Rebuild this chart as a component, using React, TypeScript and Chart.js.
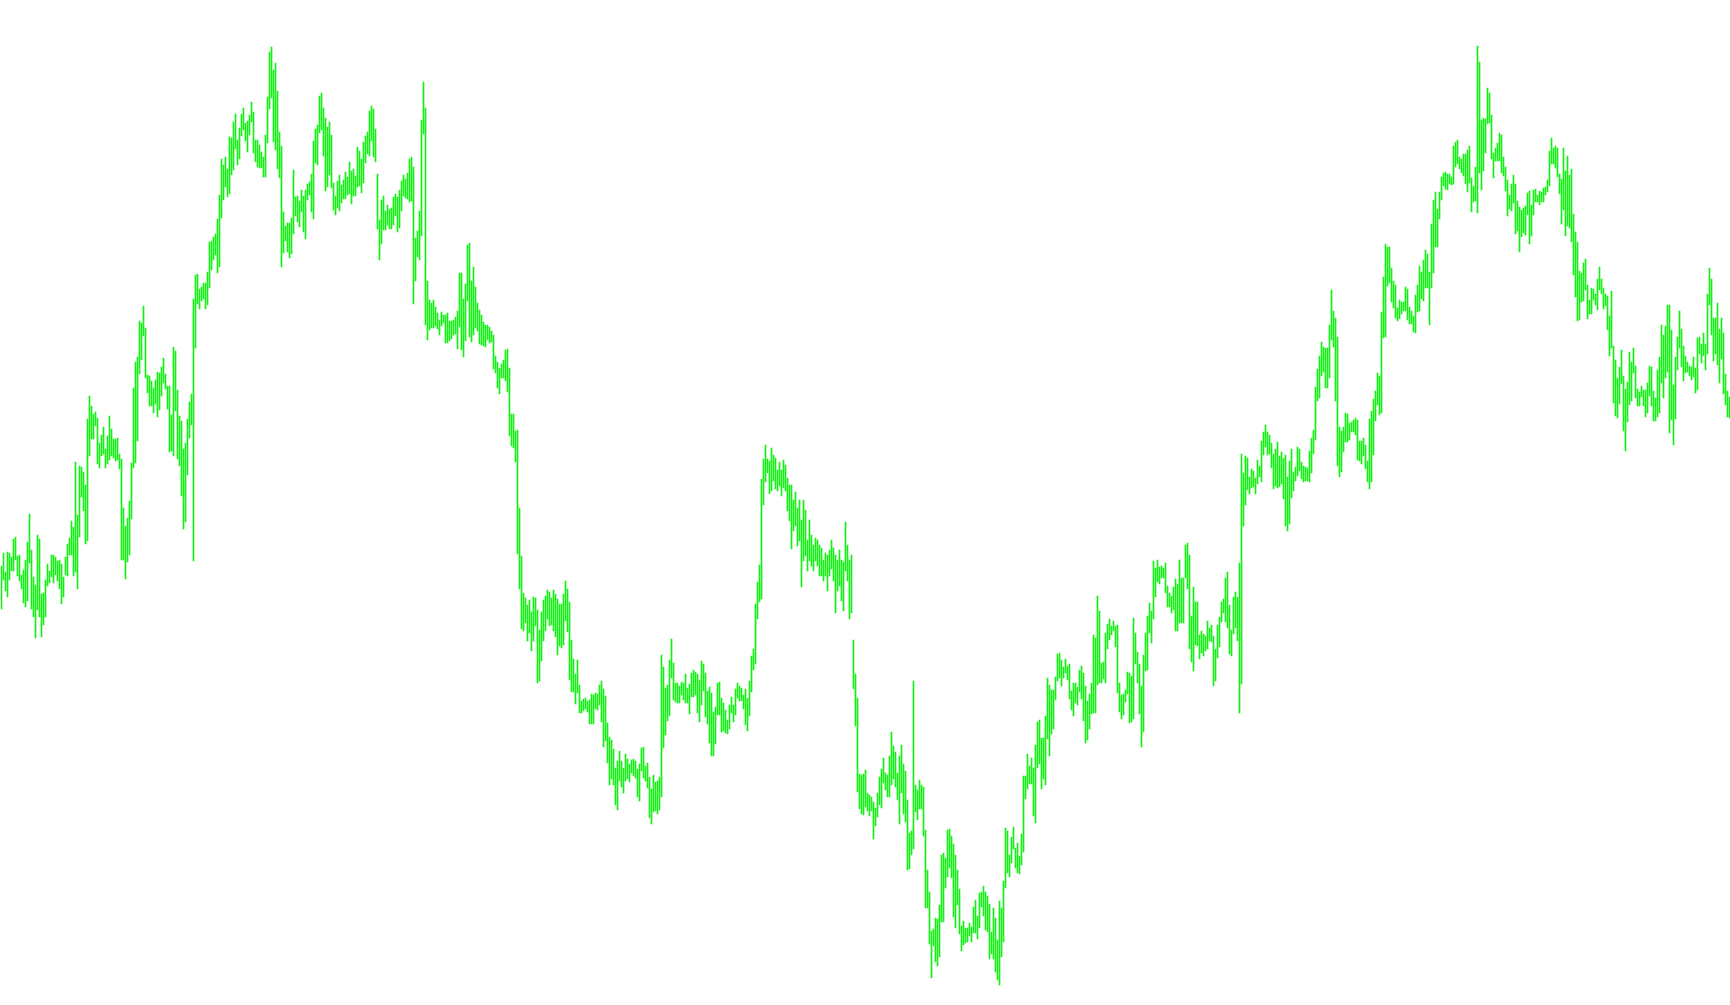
import { useEffect, useRef } from "react";
import { Chart, registerables } from "chart.js";

Chart.register(...registerables);

// Bar chart (high-low bars). The price axis is unlabeled; values are given as
// levels measured downward from the top of the panel (axis drawn reversed).
const upper: number[] = [
  566,553,572,552,553,557,539,537,556,555,
  575,570,560,542,514,550,577,585,535,539,
  594,593,580,564,571,555,555,557,561,560,
  564,577,557,544,538,521,527,462,515,466,
  467,472,485,419,396,406,414,412,418,443,
  435,427,449,436,416,429,439,439,438,454,
  459,508,526,518,501,463,388,362,357,321,
  323,306,328,375,376,381,388,380,372,373,
  367,358,374,386,386,415,347,351,390,416,
  421,449,443,419,402,394,299,275,274,289,
  287,283,283,272,242,241,237,234,219,195,
  159,165,157,169,137,138,122,114,140,128,
  114,108,123,121,115,102,112,140,140,145,
  152,157,135,97,52,47,70,63,91,132,
  146,212,226,223,223,218,170,197,196,201,
  190,196,190,184,182,174,141,129,125,96,
  93,108,118,127,122,135,183,196,181,175,
  185,180,172,177,162,171,169,176,147,151,
  159,142,136,132,111,106,109,129,174,220,
  200,196,211,205,209,208,197,194,197,190,
  181,175,179,173,159,157,167,238,231,211,
  120,82,108,281,300,303,300,307,313,320,
  312,315,315,313,321,321,320,317,311,273,
  273,299,284,245,243,281,267,287,303,310,
  315,322,325,325,327,331,335,356,362,368,
  364,360,350,349,368,414,414,431,430,508,
  556,593,598,605,600,612,597,598,610,630,
  612,600,596,590,592,598,590,594,599,604,
  604,594,581,589,602,640,659,674,660,685,
  701,699,698,701,700,694,695,693,694,685,
  681,689,696,723,737,740,749,768,761,751,
  761,768,754,759,764,760,759,761,769,764,
  748,747,766,763,777,789,775,782,781,777,
  655,667,688,685,660,639,663,683,683,686,
  682,683,674,688,684,673,670,672,674,680,
  661,664,673,691,687,693,712,707,683,682,
  698,703,710,720,705,697,705,689,683,686,
  688,695,689,698,681,656,649,604,582,565,
  479,459,445,459,461,448,455,458,470,462,
  470,460,465,478,485,485,500,492,508,500,
  520,500,510,540,520,535,545,538,540,545,
  548,560,553,555,550,540,548,555,560,550,
  560,562,522,545,560,555,640,674,698,774,
  775,774,770,793,795,797,802,808,793,777,
  769,758,773,775,756,732,746,752,773,756,
  745,764,771,800,833,831,681,785,790,780,
  785,787,830,870,892,931,929,918,919,905,
  855,853,858,830,829,836,844,855,870,889,
  926,921,928,928,923,927,907,900,916,893,
  892,886,892,896,904,932,908,918,940,901,
  908,881,828,831,855,837,827,848,843,856,
  834,776,776,754,766,758,768,745,722,720,
  738,738,716,678,685,690,690,677,654,653,
  660,667,659,666,664,691,683,683,687,670,
  666,673,686,701,694,683,635,638,596,611,
  663,662,633,624,619,626,621,626,625,683,
  695,694,690,672,673,676,618,633,652,664,
  686,655,633,616,603,611,561,568,560,567,
  566,568,563,586,593,596,587,579,584,560,
  578,578,545,543,555,616,587,602,602,635,
  631,634,636,621,628,625,636,649,625,617,
  602,599,578,572,605,630,597,592,597,563,
  454,473,456,458,477,469,471,478,460,466,
  441,432,425,432,435,443,454,449,442,456,
  452,458,455,477,461,449,472,467,447,449,
  462,466,467,468,451,438,430,387,369,356,
  342,347,348,348,325,290,311,318,337,427,
  431,427,413,414,423,422,420,418,420,441,
  441,438,445,461,419,411,399,391,373,376,
  312,277,244,247,247,268,281,285,308,300,
  302,302,287,289,307,311,316,295,285,266,
  272,260,250,254,272,224,200,192,209,192,
  177,173,172,174,174,177,146,142,140,157,
  159,154,154,150,146,178,186,167,46,62,
  120,118,119,88,93,115,153,148,143,133,
  135,157,167,180,195,184,175,184,201,207,
  210,208,206,193,191,205,190,189,195,191,
  192,188,187,180,151,138,148,146,148,174,
  179,148,171,156,175,169,214,232,242,271,
  273,263,259,285,300,288,289,294,279,267,
  279,288,294,296,316,291,346,360,378,367,
  350,376,389,382,352,362,348,366,389,392,
  386,390,390,383,366,367,391,398,370,357,
  325,335,326,305,305,330,385,357,337,311,
  329,346,356,362,366,367,357,368,338,337,
  344,333,344,294,268,279,318,318,303,329,
  318,333,374,391,397,
];

const lower: number[] = [
  608,579,590,596,579,570,570,559,575,580,
  588,602,606,600,562,608,616,637,609,616,
  636,624,616,585,582,576,582,574,580,588,
  603,596,574,575,554,554,575,571,588,536,
  496,510,543,540,455,438,438,425,463,467,
  455,453,467,463,459,455,457,460,459,468,
  559,559,578,561,554,518,467,462,440,373,
  359,335,377,392,405,405,412,403,416,409,
  395,382,388,408,451,450,455,410,458,465,
  495,528,521,474,437,424,560,347,303,308,
  300,298,308,304,287,269,259,254,272,266,
  217,199,186,196,193,174,169,148,164,158,
  135,129,140,151,134,121,152,161,166,167,
  167,176,176,142,108,97,141,149,168,177,
  266,252,240,251,257,253,233,215,221,226,
  211,231,238,199,194,211,218,162,164,132,
  129,155,190,186,174,187,209,214,207,210,
  202,198,198,194,193,203,195,195,186,185,
  192,182,162,153,155,140,156,161,228,259,
  243,229,229,224,228,228,224,215,231,227,
  210,195,197,198,201,200,303,280,256,259,
  235,133,324,339,329,327,327,325,328,334,
  325,322,342,342,340,338,334,333,348,326,
  349,356,340,300,336,341,334,327,330,343,
  344,345,346,339,342,341,368,372,387,393,
  377,377,380,391,435,445,447,461,553,588,
  628,630,622,640,632,650,640,625,682,680,
  660,640,630,618,625,624,630,636,654,645,
  647,644,620,631,679,691,691,703,692,712,
  712,710,708,711,723,723,723,708,709,704,
  721,746,740,762,784,778,784,804,809,780,
  786,792,780,778,781,772,775,777,796,800,
  770,777,780,787,817,823,811,810,813,809,
  796,747,734,720,715,677,699,701,702,702,
  694,699,702,702,713,696,696,694,712,721,
  704,690,716,723,742,755,755,743,714,714,
  731,730,732,733,728,712,721,714,697,700,
  700,708,724,730,715,691,669,663,618,601,
  598,504,481,472,493,490,480,488,490,485,
  495,487,490,510,520,548,530,525,545,540,
  586,560,555,570,560,565,570,560,565,575,
  575,580,575,590,575,568,580,612,590,585,
  600,610,570,580,618,612,688,725,791,808,
  813,814,806,810,815,810,838,825,816,804,
  807,782,789,796,796,784,778,786,799,823,
  792,813,821,869,868,854,848,811,819,808,
  808,835,907,907,943,977,945,961,965,956,
  921,921,887,876,867,877,916,927,904,933,
  950,944,942,941,935,941,932,932,938,927,
  906,915,929,931,958,953,958,971,979,984,
  956,941,887,872,876,862,848,867,872,873,
  864,851,798,788,783,783,815,822,767,763,
  788,778,784,738,755,733,728,699,680,677,
  685,677,672,679,698,709,715,702,704,691,
  698,720,742,739,728,713,712,712,684,682,
  682,678,682,648,639,634,630,646,692,711,
  718,714,701,693,722,721,718,663,682,713,
  746,731,670,669,632,642,618,596,581,583,
  577,577,592,606,606,612,609,630,630,622,
  622,622,577,588,648,661,670,644,645,658,
  652,655,650,648,640,641,685,680,657,646,
  621,612,621,627,653,655,633,627,640,712,
  683,525,504,489,493,487,486,493,483,476,
  481,454,446,454,453,467,488,485,487,486,
  483,498,525,530,523,497,490,480,475,470,
  478,481,480,480,481,472,453,439,400,397,
  375,371,387,387,377,339,346,400,465,476,
  471,451,441,441,439,431,431,434,459,460,
  463,455,468,481,488,481,454,420,404,414,
  412,337,336,285,282,301,307,317,320,318,
  313,310,310,319,323,323,331,332,311,310,
  298,300,287,287,324,287,272,246,246,218,
  199,185,188,189,183,184,183,166,163,168,
  172,175,183,191,182,211,201,200,212,172,
  189,170,152,123,122,158,177,160,160,160,
  172,175,190,215,208,210,202,233,230,251,
  236,232,234,214,243,235,214,201,201,204,
  201,201,194,191,185,163,163,167,176,193,
  223,209,235,225,227,241,274,296,320,319,
  301,300,289,318,313,313,299,304,309,289,
  293,308,305,329,355,347,402,415,417,403,
  383,430,450,421,404,400,372,397,405,405,
  396,405,416,412,395,405,420,420,416,412,
  382,397,377,371,432,419,444,418,369,347,
  366,380,372,371,375,379,376,392,389,353,
  362,355,369,353,304,334,360,353,364,382,
  358,393,404,416,417,
];

const labels: string[] = upper.map((_, i) => String(i + 1));

const BAR_COLOR = "#14f014";

export default function App() {
  const canvasRef = useRef<HTMLCanvasElement | null>(null);

  useEffect(() => {
    document.body.style.margin = "0";
    document.body.style.background = "#ffffff";
    const canvas = canvasRef.current;
    if (!canvas) return;
    const chart = new Chart(canvas, {
      type: "bar",
      data: {
        labels,
        datasets: [
          {
            data: upper.map((u, i) => [u, lower[i] + 1]) as any,
            backgroundColor: BAR_COLOR,
            borderWidth: 0,
            barThickness: 1,
            borderSkipped: false,
          },
        ],
      },
      options: {
        animation: false,
        responsive: false,
        maintainAspectRatio: false,
        devicePixelRatio: 1,
        events: [],
        layout: { padding: { left: 0.5, right: 0.5, top: 0, bottom: 0 } },
        plugins: {
          legend: { display: false },
          tooltip: { enabled: false },
          title: { display: false },
        },
        scales: {
          x: {
            display: false,
            offset: true,
            grid: { display: false },
          },
          y: {
            display: false,
            min: 0,
            max: 1005,
            reverse: true,
            grid: { display: false },
          },
        },
      },
    });
    return () => chart.destroy();
  }, []);

  return (
    <div
      style={{
        position: "fixed",
        left: 0,
        top: 0,
        width: 1731,
        height: 1005,
        background: "#ffffff",
      }}
    >
      <canvas
        ref={canvasRef}
        width={1731}
        height={1005}
        style={{ display: "block", width: 1731, height: 1005 }}
      />
    </div>
  );
}
